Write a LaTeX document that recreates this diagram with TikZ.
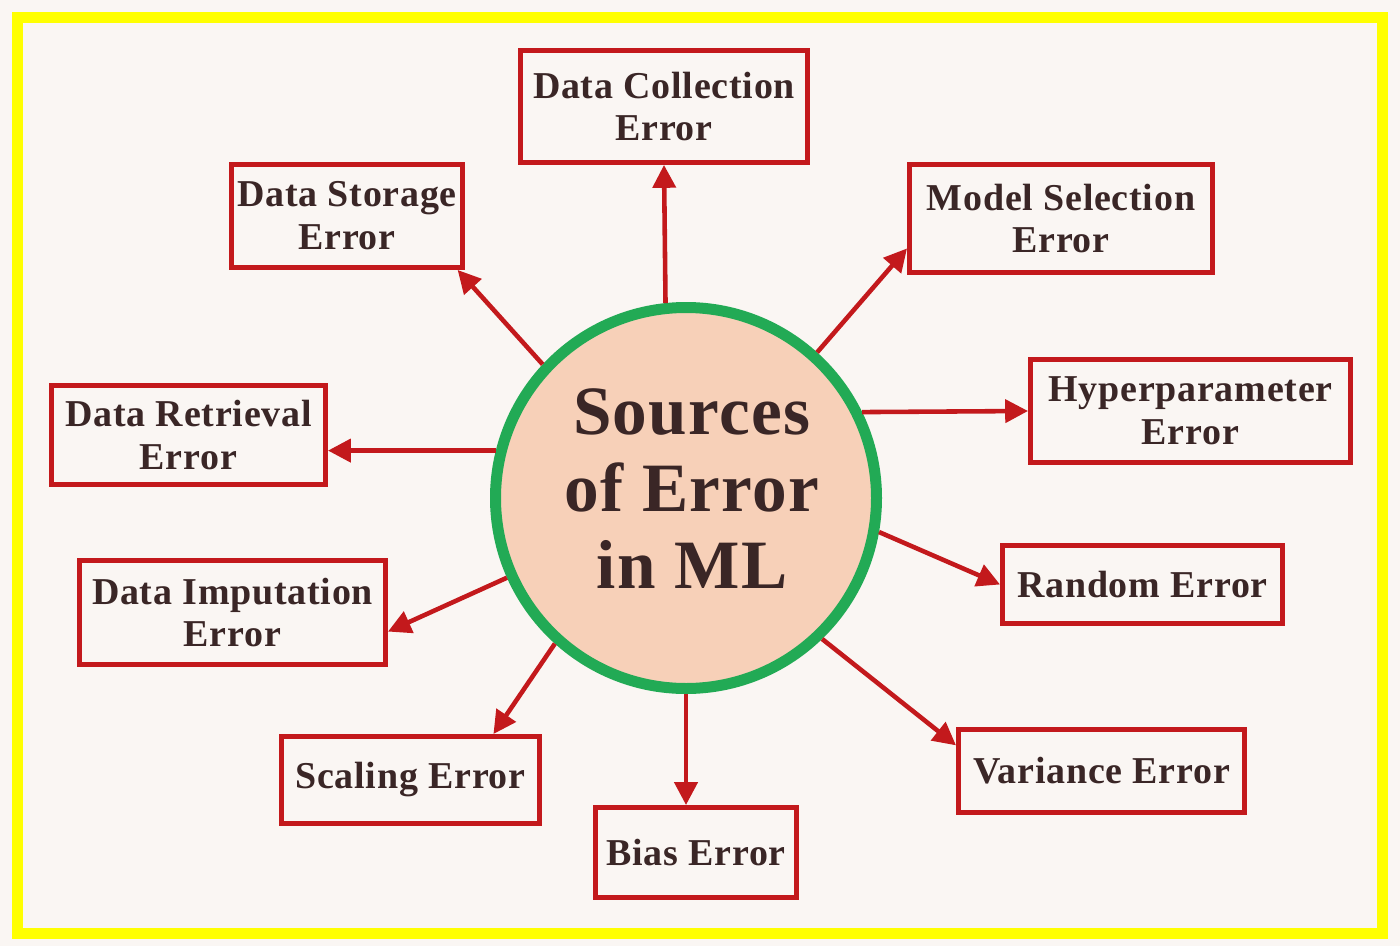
\documentclass[tikz,border=0pt]{standalone}
\usepackage{fontspec}
\setmainfont{Liberation Serif}[LetterSpace=2]
\usepackage{tikz}
\usetikzlibrary{arrows.meta}
\definecolor{frame}{HTML}{FFFF00}
\definecolor{paper}{HTML}{FAF6F3}
\definecolor{errred}{HTML}{C3191C}
\definecolor{ink}{HTML}{3A2626}
\definecolor{peach}{HTML}{F7D0B8}
\definecolor{ring}{HTML}{22AA55}
\begin{document}
\begin{tikzpicture}[every node/.style={font=\bfseries\fontsize{10.8}{12.2}\selectfont,text=ink},
      errbox/.style={draw=errred,line width=1.55pt,fill=paper,align=center,inner sep=0pt},
      hub/.style={circle,draw=ring,line width=0.11cm,fill=peach,minimum size=3.81cm,inner sep=0pt},
      hubtext/.style={align=center,inner sep=0pt,font=\bfseries\fontsize{19.7}{21.9}\selectfont},
      arrow/.style={-{Triangle[length=6.5pt,width=6.5pt]},line width=1.3pt,errred}]
      \useasboundingbox (0,0) rectangle (14,9.46);
      \fill[paper] (0,0) rectangle (14,9.46);
      \draw[frame,line width=0.11cm] (0.175,0.125) rectangle (13.825,9.285);
      \node[hub] (src) at (6.86,4.48) {};
      \node[hubtext] (srctext) at ([xshift=0.06cm,yshift=0.09cm]src.center) {Sources\\of Error\\in ML};
      \node[errbox,minimum width=2.865cm,minimum height=1.115cm] (coll) at (6.64,8.395) {Data Collection\\Error};
      \node[errbox,minimum width=2.305cm,minimum height=1.025cm] (store) at (3.47,7.30) {Data Storage\\Error};
      \node[errbox,minimum width=3.025cm,minimum height=1.075cm] (model) at (10.61,7.275) {Model Selection\\Error};
      \node[errbox,minimum width=3.195cm,minimum height=1.025cm] (hyper) at (11.905,5.35) {Hyperparameter\\Error};
      \node[errbox,minimum width=2.735cm,minimum height=0.985cm] (retr) at (1.885,5.11) {Data Retrieval\\Error};
      \node[errbox,minimum width=2.795cm,minimum height=0.775cm] (rand) at (11.425,3.615) {Random Error};
      \node[errbox,minimum width=3.055cm,minimum height=1.035cm] (imput) at (2.325,3.335) {Data Imputation\\Error};
      \node[errbox,minimum width=2.575cm,minimum height=0.865cm] (scal) at (4.105,1.66) {Scaling Error};
      \node[errbox,minimum width=2.855cm,minimum height=0.825cm] (vari) at (11.015,1.75) {Variance Error};
      \node[errbox,minimum width=2.005cm,minimum height=0.895cm] (bias) at (6.96,0.935) {Bias Error};
      \draw[arrow] (src.96.4) -- (coll.south);
      \draw[arrow] (src.137) -- (store.-26);
      \draw[arrow] (src.48) -- (model.-169);
      \draw[arrow] (src.26) -- (hyper.west);
      \draw[arrow] (src.166) -- (src.166 -| retr.east);
      \draw[arrow] (src.-10) -- (rand.west);
      \draw[arrow] (src.-156) -- (imput.-7);
      \draw[arrow] (src.-132) -- (scal.29);
      \draw[arrow] (src.-90) -- (src.-90 |- bias.north);
      \draw[arrow] (src.-46.6) -- (vari.170);
    \end{tikzpicture}
\end{document}
